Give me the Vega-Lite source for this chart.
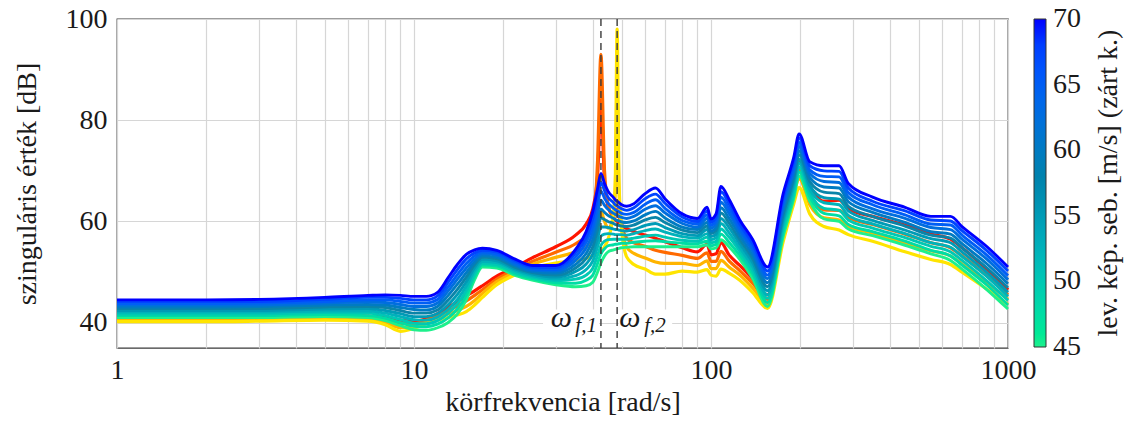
{
"$schema":"https://vega.github.io/schema/vega-lite/v6.json",
"width":891,"height":329,
"autosize":{"type":"none"},
"padding":{"left":117,"top":19,"right":123,"bottom":75},
"background":"white",
"config":{
"font":"Liberation Serif",
"view":{"stroke":"#3a3a3a","strokeWidth":1.3},
"axis":{"labelFont":"Liberation Serif","titleFont":"Liberation Serif","labelFontSize":28,"titleFontSize":28,"titleFontWeight":"normal","labelColor":"#1a1a1a","titleColor":"#1a1a1a","gridColor":"#d6d6d6","gridWidth":1.2,"domain":false,"ticks":false,"labelFlush":false,"labelOverlap":false}
},
"datasets":{
"open":[
{"o":"a","f":1,"v":41.3},{"o":"a","f":2,"v":41.3},{"o":"a","f":3,"v":41.3},{"o":"a","f":5,"v":41.5},{"o":"a","f":7,"v":41.3},{"o":"a","f":8,"v":41.0},{"o":"a","f":9,"v":40.5},{"o":"a","f":10,"v":40.3},{"o":"a","f":11,"v":40.8},{"o":"a","f":12,"v":41.8},{"o":"a","f":13,"v":43.0},{"o":"a","f":14,"v":44.2},{"o":"a","f":15,"v":45.3},{"o":"a","f":16,"v":46.3},{"o":"a","f":17,"v":47.3},{"o":"a","f":19,"v":49.2},{"o":"a","f":22,"v":51.0},{"o":"a","f":25,"v":52.8},{"o":"a","f":30,"v":55.0},{"o":"a","f":35,"v":57.3},{"o":"a","f":38,"v":59.5},{"o":"a","f":40,"v":62.5},{"o":"a","f":41.5,"v":69.0},{"o":"a","f":42.6,"v":84.0},{"o":"a","f":43.8,"v":68.0},{"o":"a","f":45,"v":63.0},{"o":"a","f":47,"v":60.8},{"o":"a","f":47.6,"v":60.3},{"o":"a","f":48.3,"v":60.0},{"o":"a","f":49,"v":59.6},{"o":"a","f":50,"v":59.3},{"o":"a","f":52,"v":58.6},{"o":"a","f":55,"v":58.0},{"o":"a","f":60,"v":57.3},{"o":"a","f":65,"v":56.7},{"o":"a","f":70,"v":56.0},{"o":"a","f":80,"v":54.8},{"o":"a","f":90,"v":54.0},{"o":"a","f":97,"v":55.5},{"o":"a","f":100,"v":53.4},{"o":"a","f":104,"v":53.6},{"o":"a","f":108,"v":55.8},{"o":"a","f":115,"v":53.4},{"o":"a","f":125,"v":51.3},{"o":"a","f":138,"v":48.7},{"o":"a","f":155,"v":45.5},{"o":"a","f":175,"v":60.0},{"o":"a","f":190,"v":69.0},{"o":"a","f":198,"v":72.0},{"o":"a","f":215,"v":67.0},{"o":"a","f":240,"v":64.0},{"o":"a","f":270,"v":64.2},{"o":"a","f":290,"v":62.5},{"o":"a","f":350,"v":61.0},{"o":"a","f":450,"v":59.3},{"o":"a","f":550,"v":57.5},{"o":"a","f":640,"v":56.5},{"o":"a","f":700,"v":54.8},{"o":"a","f":850,"v":50.5},{"o":"a","f":1000,"v":46.5},
{"o":"b","f":1,"v":40.9},{"o":"b","f":2,"v":40.9},{"o":"b","f":3,"v":41.0},{"o":"b","f":5,"v":41.2},{"o":"b","f":7,"v":41.0},{"o":"b","f":8,"v":40.5},{"o":"b","f":9,"v":39.8},{"o":"b","f":10,"v":39.8},{"o":"b","f":11,"v":40.5},{"o":"b","f":12,"v":41.4},{"o":"b","f":13,"v":42.3},{"o":"b","f":14,"v":43.3},{"o":"b","f":15,"v":44.3},{"o":"b","f":16,"v":45.4},{"o":"b","f":17,"v":46.5},{"o":"b","f":19,"v":48.6},{"o":"b","f":22,"v":50.5},{"o":"b","f":25,"v":52.1},{"o":"b","f":30,"v":53.9},{"o":"b","f":35,"v":55.6},{"o":"b","f":38,"v":57.2},{"o":"b","f":40,"v":59.4},{"o":"b","f":41.5,"v":72.0},{"o":"b","f":42.6,"v":93.0},{"o":"b","f":43.8,"v":70.0},{"o":"b","f":45,"v":63.5},{"o":"b","f":47,"v":61.0},{"o":"b","f":47.6,"v":61.5},{"o":"b","f":48.3,"v":62.5},{"o":"b","f":49,"v":61.0},{"o":"b","f":50,"v":59.0},{"o":"b","f":52,"v":56.7},{"o":"b","f":55,"v":55.8},{"o":"b","f":60,"v":55.1},{"o":"b","f":65,"v":54.3},{"o":"b","f":70,"v":53.9},{"o":"b","f":80,"v":53.3},{"o":"b","f":90,"v":52.7},{"o":"b","f":97,"v":53.8},{"o":"b","f":100,"v":52.1},{"o":"b","f":104,"v":52.1},{"o":"b","f":108,"v":54.1},{"o":"b","f":115,"v":52.2},{"o":"b","f":125,"v":50.3},{"o":"b","f":138,"v":47.8},{"o":"b","f":155,"v":44.6},{"o":"b","f":175,"v":58.7},{"o":"b","f":190,"v":67.2},{"o":"b","f":198,"v":70.2},{"o":"b","f":215,"v":65.2},{"o":"b","f":240,"v":62.3},{"o":"b","f":270,"v":62.2},{"o":"b","f":290,"v":60.8},{"o":"b","f":350,"v":59.4},{"o":"b","f":450,"v":57.5},{"o":"b","f":550,"v":55.8},{"o":"b","f":640,"v":54.8},{"o":"b","f":700,"v":53.2},{"o":"b","f":850,"v":49.2},{"o":"b","f":1000,"v":45.5},
{"o":"c","f":1,"v":40.6},{"o":"c","f":2,"v":40.6},{"o":"c","f":3,"v":40.6},{"o":"c","f":5,"v":40.8},{"o":"c","f":7,"v":40.6},{"o":"c","f":8,"v":40.1},{"o":"c","f":9,"v":39.0},{"o":"c","f":10,"v":39.4},{"o":"c","f":11,"v":40.1},{"o":"c","f":12,"v":40.9},{"o":"c","f":13,"v":41.7},{"o":"c","f":14,"v":42.4},{"o":"c","f":15,"v":43.2},{"o":"c","f":16,"v":44.4},{"o":"c","f":17,"v":45.8},{"o":"c","f":19,"v":48.1},{"o":"c","f":22,"v":50.0},{"o":"c","f":25,"v":51.5},{"o":"c","f":30,"v":52.9},{"o":"c","f":35,"v":54.0},{"o":"c","f":38,"v":55.0},{"o":"c","f":40,"v":56.3},{"o":"c","f":41.5,"v":58.0},{"o":"c","f":42.6,"v":62.0},{"o":"c","f":43.8,"v":60.0},{"o":"c","f":45,"v":58.7},{"o":"c","f":47,"v":61.2},{"o":"c","f":47.6,"v":66.0},{"o":"c","f":48.3,"v":86.0},{"o":"c","f":49,"v":66.0},{"o":"c","f":50,"v":58.8},{"o":"c","f":52,"v":54.9},{"o":"c","f":55,"v":53.7},{"o":"c","f":60,"v":52.8},{"o":"c","f":65,"v":52.0},{"o":"c","f":70,"v":51.7},{"o":"c","f":80,"v":51.7},{"o":"c","f":90,"v":51.3},{"o":"c","f":97,"v":52.2},{"o":"c","f":100,"v":50.7},{"o":"c","f":104,"v":50.7},{"o":"c","f":108,"v":52.3},{"o":"c","f":115,"v":51.0},{"o":"c","f":125,"v":49.4},{"o":"c","f":138,"v":46.9},{"o":"c","f":155,"v":43.7},{"o":"c","f":175,"v":57.3},{"o":"c","f":190,"v":65.3},{"o":"c","f":198,"v":68.5},{"o":"c","f":215,"v":63.3},{"o":"c","f":240,"v":60.7},{"o":"c","f":270,"v":60.3},{"o":"c","f":290,"v":59.1},{"o":"c","f":350,"v":57.7},{"o":"c","f":450,"v":55.8},{"o":"c","f":550,"v":54.2},{"o":"c","f":640,"v":53.2},{"o":"c","f":700,"v":51.6},{"o":"c","f":850,"v":47.9},{"o":"c","f":1000,"v":44.6},
{"o":"d","f":1,"v":40.2},{"o":"d","f":2,"v":40.2},{"o":"d","f":3,"v":40.3},{"o":"d","f":5,"v":40.5},{"o":"d","f":7,"v":40.3},{"o":"d","f":8,"v":39.6},{"o":"d","f":9,"v":38.3},{"o":"d","f":10,"v":38.9},{"o":"d","f":11,"v":39.8},{"o":"d","f":12,"v":40.5},{"o":"d","f":13,"v":41.0},{"o":"d","f":14,"v":41.5},{"o":"d","f":15,"v":42.2},{"o":"d","f":16,"v":43.5},{"o":"d","f":17,"v":45.0},{"o":"d","f":19,"v":47.5},{"o":"d","f":22,"v":49.5},{"o":"d","f":25,"v":50.8},{"o":"d","f":30,"v":51.8},{"o":"d","f":35,"v":52.3},{"o":"d","f":38,"v":52.7},{"o":"d","f":40,"v":53.2},{"o":"d","f":41.5,"v":53.6},{"o":"d","f":42.6,"v":54.0},{"o":"d","f":43.8,"v":55.0},{"o":"d","f":45,"v":56.5},{"o":"d","f":47,"v":62.0},{"o":"d","f":47.6,"v":68.0},{"o":"d","f":48.3,"v":98.0},{"o":"d","f":49,"v":68.0},{"o":"d","f":50,"v":58.5},{"o":"d","f":52,"v":53.0},{"o":"d","f":55,"v":51.5},{"o":"d","f":60,"v":50.6},{"o":"d","f":65,"v":49.6},{"o":"d","f":70,"v":49.6},{"o":"d","f":80,"v":50.2},{"o":"d","f":90,"v":50.0},{"o":"d","f":97,"v":50.5},{"o":"d","f":100,"v":49.4},{"o":"d","f":104,"v":49.2},{"o":"d","f":108,"v":50.6},{"o":"d","f":115,"v":49.8},{"o":"d","f":125,"v":48.4},{"o":"d","f":138,"v":46.0},{"o":"d","f":155,"v":42.8},{"o":"d","f":175,"v":56.0},{"o":"d","f":190,"v":63.5},{"o":"d","f":198,"v":66.7},{"o":"d","f":215,"v":61.5},{"o":"d","f":240,"v":59.0},{"o":"d","f":270,"v":58.3},{"o":"d","f":290,"v":57.4},{"o":"d","f":350,"v":56.1},{"o":"d","f":450,"v":54.0},{"o":"d","f":550,"v":52.5},{"o":"d","f":640,"v":51.5},{"o":"d","f":700,"v":50.0},{"o":"d","f":850,"v":46.6},{"o":"d","f":1000,"v":43.6}
],
"closed":[
{"s":45,"f":1,"v":41.0},{"s":45,"f":2,"v":41.0},{"s":45,"f":3,"v":41.0},{"s":45,"f":5,"v":41.2},{"s":45,"f":7,"v":41.0},{"s":45,"f":8,"v":40.4},{"s":45,"f":9,"v":39.4},{"s":45,"f":10,"v":38.6},{"s":45,"f":11,"v":38.5},{"s":45,"f":12,"v":39.0},{"s":45,"f":13,"v":40.0},{"s":45,"f":14,"v":41.7},{"s":45,"f":15,"v":44.5},{"s":45,"f":16,"v":48.5},{"s":45,"f":17,"v":51.0},{"s":45,"f":19,"v":50.8},{"s":45,"f":22,"v":49.3},{"s":45,"f":25,"v":48.4},{"s":45,"f":30,"v":47.5},{"s":45,"f":35,"v":47.1},{"s":45,"f":38,"v":47.3},{"s":45,"f":40,"v":48.0},{"s":45,"f":41.5,"v":50.0},{"s":45,"f":42.6,"v":51.8},{"s":45,"f":43.8,"v":53.2},{"s":45,"f":45,"v":54.0},{"s":45,"f":47,"v":54.4},{"s":45,"f":47.6,"v":54.5},{"s":45,"f":48.3,"v":54.6},{"s":45,"f":49,"v":54.7},{"s":45,"f":50,"v":54.8},{"s":45,"f":52,"v":54.9},{"s":45,"f":55,"v":55.0},{"s":45,"f":60,"v":55.0},{"s":45,"f":65,"v":55.0},{"s":45,"f":70,"v":55.0},{"s":45,"f":80,"v":55.0},{"s":45,"f":90,"v":55.0},{"s":45,"f":97,"v":55.4},{"s":45,"f":100,"v":54.6},{"s":45,"f":104,"v":54.8},{"s":45,"f":108,"v":56.4},{"s":45,"f":115,"v":55.0},{"s":45,"f":125,"v":52.5},{"s":45,"f":138,"v":48.8},{"s":45,"f":155,"v":43.2},{"s":45,"f":175,"v":57.0},{"s":45,"f":190,"v":64.5},{"s":45,"f":198,"v":69.0},{"s":45,"f":215,"v":64.0},{"s":45,"f":240,"v":60.5},{"s":45,"f":270,"v":60.0},{"s":45,"f":290,"v":58.5},{"s":45,"f":350,"v":57.2},{"s":45,"f":450,"v":55.3},{"s":45,"f":550,"v":53.6},{"s":45,"f":640,"v":52.3},{"s":45,"f":700,"v":50.6},{"s":45,"f":850,"v":46.5},{"s":45,"f":1000,"v":42.7},
{"s":47.5,"f":1,"v":41.4},{"s":47.5,"f":2,"v":41.4},{"s":47.5,"f":3,"v":41.4},{"s":47.5,"f":5,"v":41.6},{"s":47.5,"f":7,"v":41.4},{"s":47.5,"f":8,"v":40.9},{"s":47.5,"f":9,"v":40.0},{"s":47.5,"f":10,"v":39.3},{"s":47.5,"f":11,"v":39.2},{"s":47.5,"f":12,"v":39.7},{"s":47.5,"f":13,"v":40.9},{"s":47.5,"f":14,"v":42.7},{"s":47.5,"f":15,"v":45.4},{"s":47.5,"f":16,"v":49.1},{"s":47.5,"f":17,"v":51.4},{"s":47.5,"f":19,"v":51.2},{"s":47.5,"f":22,"v":49.6},{"s":47.5,"f":25,"v":48.7},{"s":47.5,"f":30,"v":47.9},{"s":47.5,"f":35,"v":47.8},{"s":47.5,"f":38,"v":48.4},{"s":47.5,"f":40,"v":49.4},{"s":47.5,"f":41.5,"v":51.7},{"s":47.5,"f":42.6,"v":53.6},{"s":47.5,"f":43.8,"v":54.6},{"s":47.5,"f":45,"v":55.2},{"s":47.5,"f":47,"v":55.4},{"s":47.5,"f":47.6,"v":55.5},{"s":47.5,"f":48.3,"v":55.5},{"s":47.5,"f":49,"v":55.6},{"s":47.5,"f":50,"v":55.7},{"s":47.5,"f":52,"v":55.7},{"s":47.5,"f":55,"v":55.9},{"s":47.5,"f":60,"v":56.1},{"s":47.5,"f":65,"v":56.2},{"s":47.5,"f":70,"v":56.0},{"s":47.5,"f":80,"v":55.7},{"s":47.5,"f":90,"v":55.6},{"s":47.5,"f":97,"v":56.1},{"s":47.5,"f":100,"v":55.2},{"s":47.5,"f":104,"v":55.5},{"s":47.5,"f":108,"v":57.5},{"s":47.5,"f":115,"v":55.9},{"s":47.5,"f":125,"v":53.3},{"s":47.5,"f":138,"v":49.6},{"s":47.5,"f":155,"v":44.0},{"s":47.5,"f":175,"v":57.9},{"s":47.5,"f":190,"v":65.3},{"s":47.5,"f":198,"v":69.8},{"s":47.5,"f":215,"v":64.8},{"s":47.5,"f":240,"v":61.6},{"s":47.5,"f":270,"v":61.1},{"s":47.5,"f":290,"v":59.4},{"s":47.5,"f":350,"v":58.0},{"s":47.5,"f":450,"v":56.1},{"s":47.5,"f":550,"v":54.3},{"s":47.5,"f":640,"v":53.2},{"s":47.5,"f":700,"v":51.4},{"s":47.5,"f":850,"v":47.4},{"s":47.5,"f":1000,"v":43.5},
{"s":50,"f":1,"v":41.7},{"s":50,"f":2,"v":41.7},{"s":50,"f":3,"v":41.7},{"s":50,"f":5,"v":42.0},{"s":50,"f":7,"v":41.9},{"s":50,"f":8,"v":41.4},{"s":50,"f":9,"v":40.6},{"s":50,"f":10,"v":39.9},{"s":50,"f":11,"v":39.8},{"s":50,"f":12,"v":40.4},{"s":50,"f":13,"v":41.8},{"s":50,"f":14,"v":43.7},{"s":50,"f":15,"v":46.3},{"s":50,"f":16,"v":49.7},{"s":50,"f":17,"v":51.7},{"s":50,"f":19,"v":51.5},{"s":50,"f":22,"v":49.9},{"s":50,"f":25,"v":49.0},{"s":50,"f":30,"v":48.3},{"s":50,"f":35,"v":48.6},{"s":50,"f":38,"v":49.4},{"s":50,"f":40,"v":50.8},{"s":50,"f":41.5,"v":53.3},{"s":50,"f":42.6,"v":55.3},{"s":50,"f":43.8,"v":56.1},{"s":50,"f":45,"v":56.4},{"s":50,"f":47,"v":56.5},{"s":50,"f":47.6,"v":56.5},{"s":50,"f":48.3,"v":56.5},{"s":50,"f":49,"v":56.5},{"s":50,"f":50,"v":56.5},{"s":50,"f":52,"v":56.5},{"s":50,"f":55,"v":56.7},{"s":50,"f":60,"v":57.1},{"s":50,"f":65,"v":57.3},{"s":50,"f":70,"v":56.9},{"s":50,"f":80,"v":56.3},{"s":50,"f":90,"v":56.1},{"s":50,"f":97,"v":56.9},{"s":50,"f":100,"v":55.8},{"s":50,"f":104,"v":56.1},{"s":50,"f":108,"v":58.5},{"s":50,"f":115,"v":56.9},{"s":50,"f":125,"v":54.1},{"s":50,"f":138,"v":50.3},{"s":50,"f":155,"v":44.8},{"s":50,"f":175,"v":58.7},{"s":50,"f":190,"v":66.1},{"s":50,"f":198,"v":70.7},{"s":50,"f":215,"v":65.6},{"s":50,"f":240,"v":62.6},{"s":50,"f":270,"v":62.2},{"s":50,"f":290,"v":60.3},{"s":50,"f":350,"v":58.7},{"s":50,"f":450,"v":56.8},{"s":50,"f":550,"v":55.1},{"s":50,"f":640,"v":54.0},{"s":50,"f":700,"v":52.3},{"s":50,"f":850,"v":48.2},{"s":50,"f":1000,"v":44.4},
{"s":52.5,"f":1,"v":42.1},{"s":52.5,"f":2,"v":42.1},{"s":52.5,"f":3,"v":42.1},{"s":52.5,"f":5,"v":42.3},{"s":52.5,"f":7,"v":42.3},{"s":52.5,"f":8,"v":41.9},{"s":52.5,"f":9,"v":41.2},{"s":52.5,"f":10,"v":40.6},{"s":52.5,"f":11,"v":40.5},{"s":52.5,"f":12,"v":41.1},{"s":52.5,"f":13,"v":42.6},{"s":52.5,"f":14,"v":44.6},{"s":52.5,"f":15,"v":47.2},{"s":52.5,"f":16,"v":50.3},{"s":52.5,"f":17,"v":52.1},{"s":52.5,"f":19,"v":51.9},{"s":52.5,"f":22,"v":50.3},{"s":52.5,"f":25,"v":49.3},{"s":52.5,"f":30,"v":48.6},{"s":52.5,"f":35,"v":49.3},{"s":52.5,"f":38,"v":50.5},{"s":52.5,"f":40,"v":52.2},{"s":52.5,"f":41.5,"v":55.0},{"s":52.5,"f":42.6,"v":57.1},{"s":52.5,"f":43.8,"v":57.5},{"s":52.5,"f":45,"v":57.6},{"s":52.5,"f":47,"v":57.5},{"s":52.5,"f":47.6,"v":57.4},{"s":52.5,"f":48.3,"v":57.4},{"s":52.5,"f":49,"v":57.4},{"s":52.5,"f":50,"v":57.4},{"s":52.5,"f":52,"v":57.3},{"s":52.5,"f":55,"v":57.6},{"s":52.5,"f":60,"v":58.2},{"s":52.5,"f":65,"v":58.5},{"s":52.5,"f":70,"v":57.9},{"s":52.5,"f":80,"v":57.0},{"s":52.5,"f":90,"v":56.7},{"s":52.5,"f":97,"v":57.6},{"s":52.5,"f":100,"v":56.4},{"s":52.5,"f":104,"v":56.8},{"s":52.5,"f":108,"v":59.6},{"s":52.5,"f":115,"v":57.8},{"s":52.5,"f":125,"v":54.8},{"s":52.5,"f":138,"v":51.1},{"s":52.5,"f":155,"v":45.5},{"s":52.5,"f":175,"v":59.6},{"s":52.5,"f":190,"v":67.0},{"s":52.5,"f":198,"v":71.5},{"s":52.5,"f":215,"v":66.3},{"s":52.5,"f":240,"v":63.7},{"s":52.5,"f":270,"v":63.3},{"s":52.5,"f":290,"v":61.2},{"s":52.5,"f":350,"v":59.5},{"s":52.5,"f":450,"v":57.6},{"s":52.5,"f":550,"v":55.8},{"s":52.5,"f":640,"v":54.9},{"s":52.5,"f":700,"v":53.1},{"s":52.5,"f":850,"v":49.1},{"s":52.5,"f":1000,"v":45.2},
{"s":55,"f":1,"v":42.4},{"s":55,"f":2,"v":42.4},{"s":55,"f":3,"v":42.4},{"s":55,"f":5,"v":42.7},{"s":55,"f":7,"v":42.8},{"s":55,"f":8,"v":42.4},{"s":55,"f":9,"v":41.8},{"s":55,"f":10,"v":41.2},{"s":55,"f":11,"v":41.2},{"s":55,"f":12,"v":41.8},{"s":55,"f":13,"v":43.5},{"s":55,"f":14,"v":45.6},{"s":55,"f":15,"v":48.1},{"s":55,"f":16,"v":50.9},{"s":55,"f":17,"v":52.5},{"s":55,"f":19,"v":52.2},{"s":55,"f":22,"v":50.6},{"s":55,"f":25,"v":49.6},{"s":55,"f":30,"v":49.0},{"s":55,"f":35,"v":50.1},{"s":55,"f":38,"v":51.6},{"s":55,"f":40,"v":53.6},{"s":55,"f":41.5,"v":56.6},{"s":55,"f":42.6,"v":58.9},{"s":55,"f":43.8,"v":58.9},{"s":55,"f":45,"v":58.8},{"s":55,"f":47,"v":58.5},{"s":55,"f":47.6,"v":58.4},{"s":55,"f":48.3,"v":58.4},{"s":55,"f":49,"v":58.3},{"s":55,"f":50,"v":58.2},{"s":55,"f":52,"v":58.1},{"s":55,"f":55,"v":58.4},{"s":55,"f":60,"v":59.2},{"s":55,"f":65,"v":59.6},{"s":55,"f":70,"v":58.8},{"s":55,"f":80,"v":57.6},{"s":55,"f":90,"v":57.2},{"s":55,"f":97,"v":58.4},{"s":55,"f":100,"v":57.0},{"s":55,"f":104,"v":57.5},{"s":55,"f":108,"v":60.6},{"s":55,"f":115,"v":58.8},{"s":55,"f":125,"v":55.6},{"s":55,"f":138,"v":51.9},{"s":55,"f":155,"v":46.3},{"s":55,"f":175,"v":60.4},{"s":55,"f":190,"v":67.8},{"s":55,"f":198,"v":72.3},{"s":55,"f":215,"v":67.1},{"s":55,"f":240,"v":64.7},{"s":55,"f":270,"v":64.4},{"s":55,"f":290,"v":62.1},{"s":55,"f":350,"v":60.2},{"s":55,"f":450,"v":58.3},{"s":55,"f":550,"v":56.6},{"s":55,"f":640,"v":55.8},{"s":55,"f":700,"v":54.0},{"s":55,"f":850,"v":49.9},{"s":55,"f":1000,"v":46.0},
{"s":57.5,"f":1,"v":42.8},{"s":57.5,"f":2,"v":42.8},{"s":57.5,"f":3,"v":42.8},{"s":57.5,"f":5,"v":43.1},{"s":57.5,"f":7,"v":43.2},{"s":57.5,"f":8,"v":43.0},{"s":57.5,"f":9,"v":42.4},{"s":57.5,"f":10,"v":41.9},{"s":57.5,"f":11,"v":41.9},{"s":57.5,"f":12,"v":42.5},{"s":57.5,"f":13,"v":44.4},{"s":57.5,"f":14,"v":46.6},{"s":57.5,"f":15,"v":49.0},{"s":57.5,"f":16,"v":51.5},{"s":57.5,"f":17,"v":52.9},{"s":57.5,"f":19,"v":52.6},{"s":57.5,"f":22,"v":50.9},{"s":57.5,"f":25,"v":49.9},{"s":57.5,"f":30,"v":49.4},{"s":57.5,"f":35,"v":50.8},{"s":57.5,"f":38,"v":52.7},{"s":57.5,"f":40,"v":55.0},{"s":57.5,"f":41.5,"v":58.3},{"s":57.5,"f":42.6,"v":60.7},{"s":57.5,"f":43.8,"v":60.4},{"s":57.5,"f":45,"v":60.0},{"s":57.5,"f":47,"v":59.6},{"s":57.5,"f":47.6,"v":59.4},{"s":57.5,"f":48.3,"v":59.3},{"s":57.5,"f":49,"v":59.2},{"s":57.5,"f":50,"v":59.1},{"s":57.5,"f":52,"v":59.0},{"s":57.5,"f":55,"v":59.3},{"s":57.5,"f":60,"v":60.3},{"s":57.5,"f":65,"v":60.8},{"s":57.5,"f":70,"v":59.8},{"s":57.5,"f":80,"v":58.3},{"s":57.5,"f":90,"v":57.8},{"s":57.5,"f":97,"v":59.1},{"s":57.5,"f":100,"v":57.6},{"s":57.5,"f":104,"v":58.2},{"s":57.5,"f":108,"v":61.7},{"s":57.5,"f":115,"v":59.7},{"s":57.5,"f":125,"v":56.4},{"s":57.5,"f":138,"v":52.7},{"s":57.5,"f":155,"v":47.1},{"s":57.5,"f":175,"v":61.3},{"s":57.5,"f":190,"v":68.6},{"s":57.5,"f":198,"v":73.2},{"s":57.5,"f":215,"v":67.9},{"s":57.5,"f":240,"v":65.8},{"s":57.5,"f":270,"v":65.5},{"s":57.5,"f":290,"v":63.0},{"s":57.5,"f":350,"v":61.0},{"s":57.5,"f":450,"v":59.1},{"s":57.5,"f":550,"v":57.3},{"s":57.5,"f":640,"v":56.7},{"s":57.5,"f":700,"v":54.8},{"s":57.5,"f":850,"v":50.8},{"s":57.5,"f":1000,"v":46.9},
{"s":60,"f":1,"v":43.1},{"s":60,"f":2,"v":43.1},{"s":60,"f":3,"v":43.2},{"s":60,"f":5,"v":43.5},{"s":60,"f":7,"v":43.6},{"s":60,"f":8,"v":43.5},{"s":60,"f":9,"v":43.0},{"s":60,"f":10,"v":42.6},{"s":60,"f":11,"v":42.5},{"s":60,"f":12,"v":43.2},{"s":60,"f":13,"v":45.3},{"s":60,"f":14,"v":47.6},{"s":60,"f":15,"v":49.9},{"s":60,"f":16,"v":52.0},{"s":60,"f":17,"v":53.2},{"s":60,"f":19,"v":52.9},{"s":60,"f":22,"v":51.2},{"s":60,"f":25,"v":50.1},{"s":60,"f":30,"v":49.8},{"s":60,"f":35,"v":51.5},{"s":60,"f":38,"v":53.7},{"s":60,"f":40,"v":56.4},{"s":60,"f":41.5,"v":59.9},{"s":60,"f":42.6,"v":62.4},{"s":60,"f":43.8,"v":61.8},{"s":60,"f":45,"v":61.2},{"s":60,"f":47,"v":60.6},{"s":60,"f":47.6,"v":60.4},{"s":60,"f":48.3,"v":60.2},{"s":60,"f":49,"v":60.1},{"s":60,"f":50,"v":59.9},{"s":60,"f":52,"v":59.8},{"s":60,"f":55,"v":60.1},{"s":60,"f":60,"v":61.3},{"s":60,"f":65,"v":62.0},{"s":60,"f":70,"v":60.7},{"s":60,"f":80,"v":58.9},{"s":60,"f":90,"v":58.4},{"s":60,"f":97,"v":59.8},{"s":60,"f":100,"v":58.1},{"s":60,"f":104,"v":58.8},{"s":60,"f":108,"v":62.7},{"s":60,"f":115,"v":60.6},{"s":60,"f":125,"v":57.2},{"s":60,"f":138,"v":53.4},{"s":60,"f":155,"v":47.9},{"s":60,"f":175,"v":62.1},{"s":60,"f":190,"v":69.4},{"s":60,"f":198,"v":74.0},{"s":60,"f":215,"v":68.7},{"s":60,"f":240,"v":66.8},{"s":60,"f":270,"v":66.6},{"s":60,"f":290,"v":63.9},{"s":60,"f":350,"v":61.8},{"s":60,"f":450,"v":59.8},{"s":60,"f":550,"v":58.0},{"s":60,"f":640,"v":57.5},{"s":60,"f":700,"v":55.6},{"s":60,"f":850,"v":51.6},{"s":60,"f":1000,"v":47.7},
{"s":62.5,"f":1,"v":43.5},{"s":62.5,"f":2,"v":43.5},{"s":62.5,"f":3,"v":43.5},{"s":62.5,"f":5,"v":43.9},{"s":62.5,"f":7,"v":44.1},{"s":62.5,"f":8,"v":44.0},{"s":62.5,"f":9,"v":43.6},{"s":62.5,"f":10,"v":43.2},{"s":62.5,"f":11,"v":43.2},{"s":62.5,"f":12,"v":43.9},{"s":62.5,"f":13,"v":46.2},{"s":62.5,"f":14,"v":48.6},{"s":62.5,"f":15,"v":50.8},{"s":62.5,"f":16,"v":52.6},{"s":62.5,"f":17,"v":53.6},{"s":62.5,"f":19,"v":53.3},{"s":62.5,"f":22,"v":51.5},{"s":62.5,"f":25,"v":50.4},{"s":62.5,"f":30,"v":50.2},{"s":62.5,"f":35,"v":52.3},{"s":62.5,"f":38,"v":54.8},{"s":62.5,"f":40,"v":57.8},{"s":62.5,"f":41.5,"v":61.6},{"s":62.5,"f":42.6,"v":64.2},{"s":62.5,"f":43.8,"v":63.2},{"s":62.5,"f":45,"v":62.4},{"s":62.5,"f":47,"v":61.6},{"s":62.5,"f":47.6,"v":61.4},{"s":62.5,"f":48.3,"v":61.2},{"s":62.5,"f":49,"v":61.0},{"s":62.5,"f":50,"v":60.8},{"s":62.5,"f":52,"v":60.6},{"s":62.5,"f":55,"v":61.0},{"s":62.5,"f":60,"v":62.4},{"s":62.5,"f":65,"v":63.1},{"s":62.5,"f":70,"v":61.7},{"s":62.5,"f":80,"v":59.6},{"s":62.5,"f":90,"v":58.9},{"s":62.5,"f":97,"v":60.6},{"s":62.5,"f":100,"v":58.7},{"s":62.5,"f":104,"v":59.5},{"s":62.5,"f":108,"v":63.8},{"s":62.5,"f":115,"v":61.6},{"s":62.5,"f":125,"v":58.0},{"s":62.5,"f":138,"v":54.2},{"s":62.5,"f":155,"v":48.7},{"s":62.5,"f":175,"v":63.0},{"s":62.5,"f":190,"v":70.2},{"s":62.5,"f":198,"v":74.8},{"s":62.5,"f":215,"v":69.5},{"s":62.5,"f":240,"v":67.9},{"s":62.5,"f":270,"v":67.7},{"s":62.5,"f":290,"v":64.8},{"s":62.5,"f":350,"v":62.5},{"s":62.5,"f":450,"v":60.6},{"s":62.5,"f":550,"v":58.8},{"s":62.5,"f":640,"v":58.4},{"s":62.5,"f":700,"v":56.5},{"s":62.5,"f":850,"v":52.5},{"s":62.5,"f":1000,"v":48.5},
{"s":65,"f":1,"v":43.8},{"s":65,"f":2,"v":43.8},{"s":65,"f":3,"v":43.9},{"s":65,"f":5,"v":44.2},{"s":65,"f":7,"v":44.5},{"s":65,"f":8,"v":44.5},{"s":65,"f":9,"v":44.2},{"s":65,"f":10,"v":43.9},{"s":65,"f":11,"v":43.9},{"s":65,"f":12,"v":44.6},{"s":65,"f":13,"v":47.0},{"s":65,"f":14,"v":49.5},{"s":65,"f":15,"v":51.7},{"s":65,"f":16,"v":53.2},{"s":65,"f":17,"v":54.0},{"s":65,"f":19,"v":53.6},{"s":65,"f":22,"v":51.9},{"s":65,"f":25,"v":50.7},{"s":65,"f":30,"v":50.5},{"s":65,"f":35,"v":53.0},{"s":65,"f":38,"v":55.9},{"s":65,"f":40,"v":59.2},{"s":65,"f":41.5,"v":63.2},{"s":65,"f":42.6,"v":66.0},{"s":65,"f":43.8,"v":64.6},{"s":65,"f":45,"v":63.6},{"s":65,"f":47,"v":62.6},{"s":65,"f":47.6,"v":62.3},{"s":65,"f":48.3,"v":62.1},{"s":65,"f":49,"v":61.9},{"s":65,"f":50,"v":61.6},{"s":65,"f":52,"v":61.4},{"s":65,"f":55,"v":61.8},{"s":65,"f":60,"v":63.4},{"s":65,"f":65,"v":64.3},{"s":65,"f":70,"v":62.6},{"s":65,"f":80,"v":60.2},{"s":65,"f":90,"v":59.5},{"s":65,"f":97,"v":61.3},{"s":65,"f":100,"v":59.3},{"s":65,"f":104,"v":60.2},{"s":65,"f":108,"v":64.8},{"s":65,"f":115,"v":62.5},{"s":65,"f":125,"v":58.7},{"s":65,"f":138,"v":55.0},{"s":65,"f":155,"v":49.4},{"s":65,"f":175,"v":63.8},{"s":65,"f":190,"v":71.1},{"s":65,"f":198,"v":75.6},{"s":65,"f":215,"v":70.2},{"s":65,"f":240,"v":68.9},{"s":65,"f":270,"v":68.8},{"s":65,"f":290,"v":65.7},{"s":65,"f":350,"v":63.3},{"s":65,"f":450,"v":61.3},{"s":65,"f":550,"v":59.5},{"s":65,"f":640,"v":59.3},{"s":65,"f":700,"v":57.3},{"s":65,"f":850,"v":53.3},{"s":65,"f":1000,"v":49.3},
{"s":67.5,"f":1,"v":44.2},{"s":67.5,"f":2,"v":44.2},{"s":67.5,"f":3,"v":44.2},{"s":67.5,"f":5,"v":44.6},{"s":67.5,"f":7,"v":45.0},{"s":67.5,"f":8,"v":45.0},{"s":67.5,"f":9,"v":44.8},{"s":67.5,"f":10,"v":44.5},{"s":67.5,"f":11,"v":44.5},{"s":67.5,"f":12,"v":45.3},{"s":67.5,"f":13,"v":47.9},{"s":67.5,"f":14,"v":50.5},{"s":67.5,"f":15,"v":52.6},{"s":67.5,"f":16,"v":53.8},{"s":67.5,"f":17,"v":54.3},{"s":67.5,"f":19,"v":54.0},{"s":67.5,"f":22,"v":52.2},{"s":67.5,"f":25,"v":51.0},{"s":67.5,"f":30,"v":50.9},{"s":67.5,"f":35,"v":53.8},{"s":67.5,"f":38,"v":56.9},{"s":67.5,"f":40,"v":60.6},{"s":67.5,"f":41.5,"v":64.9},{"s":67.5,"f":42.6,"v":67.7},{"s":67.5,"f":43.8,"v":66.1},{"s":67.5,"f":45,"v":64.8},{"s":67.5,"f":47,"v":63.7},{"s":67.5,"f":47.6,"v":63.3},{"s":67.5,"f":48.3,"v":63.1},{"s":67.5,"f":49,"v":62.8},{"s":67.5,"f":50,"v":62.5},{"s":67.5,"f":52,"v":62.2},{"s":67.5,"f":55,"v":62.7},{"s":67.5,"f":60,"v":64.5},{"s":67.5,"f":65,"v":65.4},{"s":67.5,"f":70,"v":63.6},{"s":67.5,"f":80,"v":60.9},{"s":67.5,"f":90,"v":60.0},{"s":67.5,"f":97,"v":62.1},{"s":67.5,"f":100,"v":59.9},{"s":67.5,"f":104,"v":60.8},{"s":67.5,"f":108,"v":65.9},{"s":67.5,"f":115,"v":63.5},{"s":67.5,"f":125,"v":59.5},{"s":67.5,"f":138,"v":55.7},{"s":67.5,"f":155,"v":50.2},{"s":67.5,"f":175,"v":64.7},{"s":67.5,"f":190,"v":71.9},{"s":67.5,"f":198,"v":76.5},{"s":67.5,"f":215,"v":71.0},{"s":67.5,"f":240,"v":70.0},{"s":67.5,"f":270,"v":69.9},{"s":67.5,"f":290,"v":66.6},{"s":67.5,"f":350,"v":64.0},{"s":67.5,"f":450,"v":62.1},{"s":67.5,"f":550,"v":60.3},{"s":67.5,"f":640,"v":60.1},{"s":67.5,"f":700,"v":58.2},{"s":67.5,"f":850,"v":54.2},{"s":67.5,"f":1000,"v":50.2},
{"s":70,"f":1,"v":44.5},{"s":70,"f":2,"v":44.5},{"s":70,"f":3,"v":44.6},{"s":70,"f":5,"v":45.0},{"s":70,"f":7,"v":45.4},{"s":70,"f":8,"v":45.5},{"s":70,"f":9,"v":45.4},{"s":70,"f":10,"v":45.2},{"s":70,"f":11,"v":45.2},{"s":70,"f":12,"v":46.0},{"s":70,"f":13,"v":48.8},{"s":70,"f":14,"v":51.5},{"s":70,"f":15,"v":53.5},{"s":70,"f":16,"v":54.4},{"s":70,"f":17,"v":54.7},{"s":70,"f":19,"v":54.3},{"s":70,"f":22,"v":52.5},{"s":70,"f":25,"v":51.3},{"s":70,"f":30,"v":51.3},{"s":70,"f":35,"v":54.5},{"s":70,"f":38,"v":58.0},{"s":70,"f":40,"v":62.0},{"s":70,"f":41.5,"v":66.5},{"s":70,"f":42.6,"v":69.5},{"s":70,"f":43.8,"v":67.5},{"s":70,"f":45,"v":66.0},{"s":70,"f":47,"v":64.7},{"s":70,"f":47.6,"v":64.3},{"s":70,"f":48.3,"v":64.0},{"s":70,"f":49,"v":63.7},{"s":70,"f":50,"v":63.3},{"s":70,"f":52,"v":63.0},{"s":70,"f":55,"v":63.5},{"s":70,"f":60,"v":65.5},{"s":70,"f":65,"v":66.6},{"s":70,"f":70,"v":64.5},{"s":70,"f":80,"v":61.5},{"s":70,"f":90,"v":60.6},{"s":70,"f":97,"v":62.8},{"s":70,"f":100,"v":60.5},{"s":70,"f":104,"v":61.5},{"s":70,"f":108,"v":66.9},{"s":70,"f":115,"v":64.4},{"s":70,"f":125,"v":60.3},{"s":70,"f":138,"v":56.5},{"s":70,"f":155,"v":51.0},{"s":70,"f":175,"v":65.5},{"s":70,"f":190,"v":72.7},{"s":70,"f":198,"v":77.3},{"s":70,"f":215,"v":71.8},{"s":70,"f":240,"v":71.0},{"s":70,"f":270,"v":71.0},{"s":70,"f":290,"v":67.5},{"s":70,"f":350,"v":64.8},{"s":70,"f":450,"v":62.8},{"s":70,"f":550,"v":61.0},{"s":70,"f":640,"v":61.0},{"s":70,"f":700,"v":59.0},{"s":70,"f":850,"v":55.0},{"s":70,"f":1000,"v":51.0}
]
},
"layer":[
{"data":{"name":"open"},
 "mark":{"type":"line","strokeWidth":3.2,"interpolate":"monotone"},
 "encoding":{
  "x":{"field":"f","type":"quantitative","scale":{"type":"log","domain":[1,1000],"nice":false},
   "axis":{"title":"körfrekvencia [rad/s]","values":[1,2,3,4,5,6,7,8,9,10,20,30,40,50,60,70,80,90,100,200,300,400,500,600,700,800,900,1000],"format":"d","labelExpr":"datum.value == 1 || datum.value == 10 || datum.value == 100 || datum.value == 1000 ? datum.label : ''","labelPadding":8,"titlePadding":4,"grid":true}},
  "y":{"field":"v","type":"quantitative","scale":{"domain":[35,100],"nice":false,"zero":false},
   "axis":{"title":"szinguláris érték [dB]","values":[40,60,80,100],"labelPadding":10,"titlePadding":24,"grid":true}},
  "color":{"field":"o","type":"nominal","scale":{"domain":["a","b","c","d"],"range":["#ff1500","#ff6a00","#ffb400","#ffe400"]},"legend":null},
  "detail":{"field":"o"}
 }},
{"data":{"name":"closed"},
 "mark":{"type":"line","strokeWidth":2.9,"interpolate":"monotone"},
 "encoding":{
  "x":{"field":"f","type":"quantitative","scale":{"type":"log","domain":[1,1000],"nice":false}},
  "y":{"field":"v","type":"quantitative","scale":{"domain":[35,100],"nice":false,"zero":false}},
  "color":{"field":"s","type":"quantitative","scale":{"domain":[45,57.5,70],"range":["#1ef08c","#0a84a8","#0000ff"]},
   "legend":{"title":"lev. kép. seb. [m/s] (zárt k.)","orient":"right","offset":19,"padding":0,"direction":"vertical","gradientLength":328,"gradientThickness":12,"gradientStrokeColor":"#333","gradientStrokeWidth":1,"values":[45,50,55,60,65,70],"labelFont":"Liberation Serif","labelFontSize":28,"labelColor":"#1a1a1a","labelOffset":7,"titleOrient":"right","titleAnchor":"middle","titleLimit":600,"titleFont":"Liberation Serif","titleFontSize":28,"titleFontWeight":"normal","titleColor":"#1a1a1a","titlePadding":14,
    "encode":{"title":{"update":{"angle":{"value":270},"baseline":{"value":"top"}}},"labels":{"update":{"baseline":{"value":"middle"}}}}}},
  "detail":{"field":"s"}
 }},
{"data":{"values":[{}]},
 "mark":{"type":"rect","color":"white"},
 "encoding":{
  "x":{"datum":27.2,"type":"quantitative","scale":{"type":"log","domain":[1,1000],"nice":false}},
  "x2":{"datum":42.0},
  "y":{"datum":35.4,"type":"quantitative","scale":{"domain":[35,100],"nice":false,"zero":false}},
  "y2":{"datum":42.6}
 }},
{"data":{"values":[{}]},
 "mark":{"type":"rect","color":"white"},
 "encoding":{
  "x":{"datum":48.9,"type":"quantitative","scale":{"type":"log","domain":[1,1000],"nice":false}},
  "x2":{"datum":74.0},
  "y":{"datum":35.4,"type":"quantitative","scale":{"domain":[35,100],"nice":false,"zero":false}},
  "y2":{"datum":42.6}
 }},
{"data":{"values":[{"f":42.6},{"f":48.3}]},
 "mark":{"type":"rule","color":"#3a3a3a","strokeDash":[7,5],"strokeWidth":1.4},
 "encoding":{
  "x":{"field":"f","type":"quantitative","scale":{"type":"log","domain":[1,1000],"nice":false}}
 }},
{"data":{"values":[{}]},
 "mark":{"type":"text","text":"ω","font":"Liberation Serif","fontStyle":"italic","fontSize":30,"align":"right","baseline":"alphabetic","dx":-29,"color":"#1a1a1a"},
 "encoding":{
  "x":{"datum":42.6,"type":"quantitative","scale":{"type":"log","domain":[1,1000],"nice":false}},
  "y":{"datum":39.1,"type":"quantitative","scale":{"domain":[35,100],"nice":false,"zero":false}}
 }},
{"data":{"values":[{}]},
 "mark":{"type":"text","text":"f,1","font":"Liberation Serif","fontStyle":"italic","fontSize":21,"align":"right","baseline":"alphabetic","dx":-4,"color":"#1a1a1a"},
 "encoding":{
  "x":{"datum":42.6,"type":"quantitative","scale":{"type":"log","domain":[1,1000],"nice":false}},
  "y":{"datum":38.1,"type":"quantitative","scale":{"domain":[35,100],"nice":false,"zero":false}}
 }},
{"data":{"values":[{}]},
 "mark":{"type":"text","text":"ω","font":"Liberation Serif","fontStyle":"italic","fontSize":30,"align":"left","baseline":"alphabetic","dx":2,"color":"#1a1a1a"},
 "encoding":{
  "x":{"datum":48.3,"type":"quantitative","scale":{"type":"log","domain":[1,1000],"nice":false}},
  "y":{"datum":39.1,"type":"quantitative","scale":{"domain":[35,100],"nice":false,"zero":false}}
 }},
{"data":{"values":[{}]},
 "mark":{"type":"text","text":"f,2","font":"Liberation Serif","fontStyle":"italic","fontSize":21,"align":"left","baseline":"alphabetic","dx":27,"color":"#1a1a1a"},
 "encoding":{
  "x":{"datum":48.3,"type":"quantitative","scale":{"type":"log","domain":[1,1000],"nice":false}},
  "y":{"datum":38.1,"type":"quantitative","scale":{"domain":[35,100],"nice":false,"zero":false}}
 }}
],
"resolve":{"scale":{"color":"independent"}}
}
